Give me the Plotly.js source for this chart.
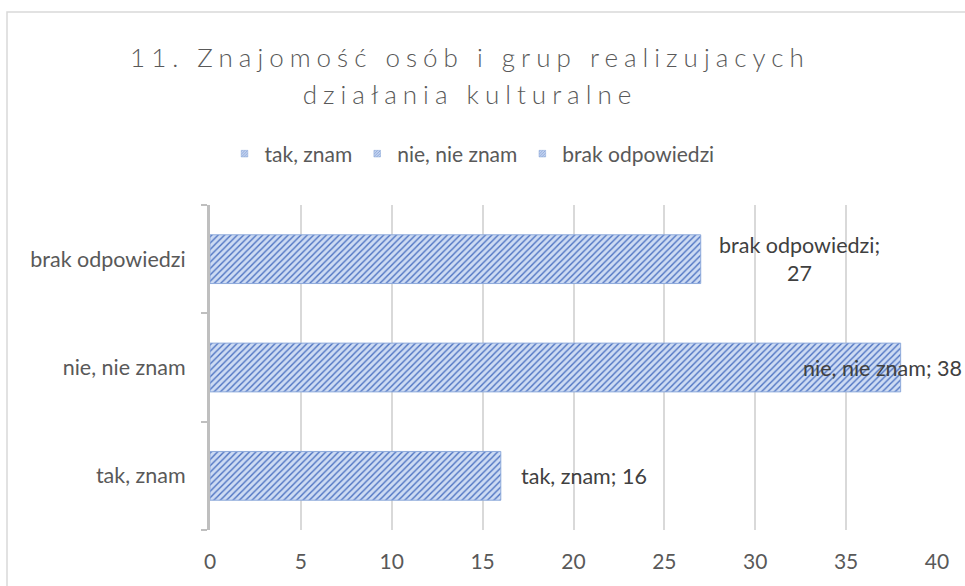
<!DOCTYPE html>
<html>
<head>
<meta charset="utf-8">
<script src="https://cdn.plot.ly/plotly-3.0.1.min.js"></script>
<style>
html,body{margin:0;padding:0;background:#fff;}
#chart{width:965px;height:586px;}
g[class*="g-gtitle"] text{letter-spacing:6px;}
.legend .legendpoints path{transform:translate(20px,0) scale(0.55);transform-box:fill-box;transform-origin:center;}
</style>
</head>
<body>
<div id="chart"></div>
<script>
// Data
const categories = ["tak, znam", "nie, nie znam", "brak odpowiedzi"];
const values = [16, 38, 27];
const labelTexts = ["tak, znam; 16", "nie, nie znam; 38", "brak odpowiedzi;<br>27"];
const xTicks = [0, 5, 10, 15, 20, 25, 30, 35, 40];
const titleLines = ["11. Znajomość osób i grup realizujacych", "działania kulturalne"];

const font = "Lato, 'Open Sans', sans-serif";
const labelShift = [18, -100, 16];

const traces = categories.map((c, i) => ({
  type: "bar",
  orientation: "h",
  name: c,
  x: [values[i]],
  y: [c],
  marker: {
    color: "#c7d6f1",
    line: {color: "#8eaadb", width: 1},
    pattern: {shape: "/", bgcolor: "#cddbf3", fgcolor: "#4a70c0", size: 4.5, solidity: 0.3}
  },
  hoverinfo: "skip"
}));

const annotations = categories.map((c, i) => ({
  x: values[i], y: c, xref: "x", yref: "y",
  text: labelTexts[i], showarrow: false,
  xanchor: "left", yanchor: "middle", xshift: labelShift[i],
  align: "center",
  font: {family: font, size: 21.5, color: "#404040"}
}));

const layout = {
  width: 965, height: 586,
  margin: {l: 210, r: 28, t: 205, b: 56},
  paper_bgcolor: "#ffffff", plot_bgcolor: "#ffffff",
  showlegend: true,
  barmode: "overlay",
  bargap: 0.55,
  title: {
    text: titleLines.map(t => '<span style="font-size:26px">' + t + '</span>').join("<br>"),
    font: {family: font, size: 28.5, color: "#595959", weight: 300},
    x: 0.487, xref: "container", xanchor: "center",
    y: 1 - 67/586, yref: "container", yanchor: "top"
  },
  legend: {
    orientation: "h",
    x: 472/965, xref: "container", xanchor: "center",
    y: 1 - 154/586, yref: "container", yanchor: "middle",
    font: {family: font, size: 21, color: "#595959"},
    traceorder: "normal",
    itemwidth: 30
  },
  xaxis: {
    range: [0, 40],
    tickvals: xTicks,
    showgrid: true, gridcolor: "#d9d9d9", gridwidth: 2,
    zeroline: false, showline: false,
    ticks: "",
    ticklabelstandoff: 17,
    tickfont: {family: font, size: 21, color: "#595959"},
    fixedrange: true
  },
  yaxis: {
    type: "category",
    categoryorder: "array", categoryarray: categories,
    range: [-0.5, 2.5],
    showline: true, linecolor: "#bfbfbf", linewidth: 3,
    ticks: "outside", tickson: "boundaries", ticklen: 6, tickwidth: 2, tickcolor: "#bfbfbf",
    showgrid: false, zeroline: false,
    ticklabelstandoff: 17,
    tickfont: {family: font, size: 21.5, color: "#595959"},
    fixedrange: true
  },
  shapes: [{
    type: "rect", xref: "paper", yref: "paper",
    x0: (7 - 210) / 727, x1: 1.2, y0: -0.5, y1: (530 - 12) / 325,
    line: {color: "#d9d9d9", width: 1.5}, fillcolor: "rgba(0,0,0,0)", layer: "below"
  }],
  annotations: annotations
};

Plotly.newPlot("chart", traces, layout, {displayModeBar: false, staticPlot: true});
</script>
</body>
</html>
